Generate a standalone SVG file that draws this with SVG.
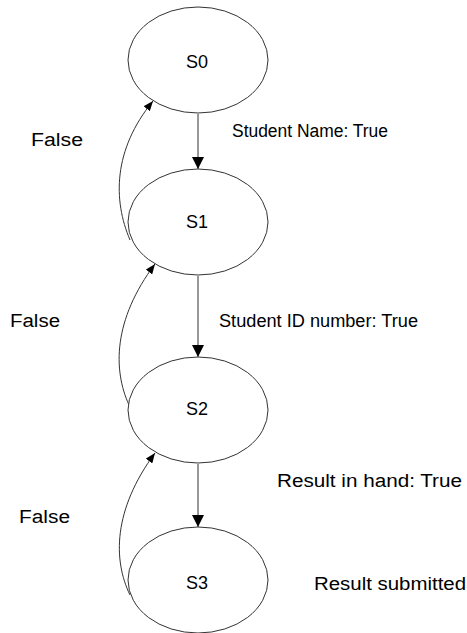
<svg xmlns="http://www.w3.org/2000/svg" width="467" height="633" viewBox="0 0 467 633">
  <style>
    .state ellipse { fill: #ffffff; stroke: #333333; stroke-width: 1; }
    .state text, .label { font-family: "Liberation Sans", Arial, sans-serif; font-size: 18px; fill: #000000; }
    .state text { text-anchor: middle; }
    .edge { fill: none; stroke: #333333; stroke-width: 1; }
  </style>
  <defs>
    <marker id="headBig" viewBox="0 0 12 12" refX="12" refY="6" markerWidth="12" markerHeight="12" markerUnits="userSpaceOnUse" orient="auto">
      <path d="M0,0 L12,6 L0,12 Z" fill="#000000"/>
    </marker>
    <marker id="headSmall" viewBox="0 0 10 8" refX="10" refY="4" markerWidth="10" markerHeight="8" markerUnits="userSpaceOnUse" orient="auto">
      <path d="M0,0 L10,4 L0,8 Z" fill="#000000"/>
    </marker>
  </defs>

  <rect width="467" height="633" fill="#ffffff"/>

  <g id="connectors">
    <!-- forward transitions -->
    <path class="edge" d="M198,114 L198,169" marker-end="url(#headBig)"/>
    <path class="edge" d="M198,276 L198,357" marker-end="url(#headBig)"/>
    <path class="edge" d="M198,464 L198,527" marker-end="url(#headBig)"/>
    <!-- return transitions (False) -->
    <path class="edge" d="M130,240 C113,200 113,150 153,101" marker-end="url(#headSmall)"/>
    <path class="edge" d="M129,405 C113,370 113,320 155,264" marker-end="url(#headSmall)"/>
    <path class="edge" d="M130,595 C113,560 113,510 155,453" marker-end="url(#headSmall)"/>
  </g>

  <g id="S0" class="state">
    <ellipse cx="198" cy="60" rx="70" ry="53"/>
    <text x="197" y="68">S0</text>
  </g>
  <g id="S1" class="state">
    <ellipse cx="198" cy="222" rx="70" ry="53"/>
    <text x="197" y="228">S1</text>
  </g>
  <g id="S2" class="state">
    <ellipse cx="198" cy="410" rx="70" ry="53"/>
    <text x="197" y="415">S2</text>
  </g>
  <g id="S3" class="state">
    <ellipse cx="198" cy="580" rx="70" ry="53"/>
    <text x="197" y="589">S3</text>
  </g>

  <g id="labels">
    <text class="label" x="31" y="146" textLength="52" lengthAdjust="spacingAndGlyphs">False</text>
    <text class="label" x="232" y="137" textLength="156" lengthAdjust="spacingAndGlyphs">Student Name: True</text>
    <text class="label" x="10" y="327" textLength="50" lengthAdjust="spacingAndGlyphs">False</text>
    <text class="label" x="219" y="327" textLength="199" lengthAdjust="spacingAndGlyphs">Student ID number: True</text>
    <text class="label" x="19" y="523" textLength="51" lengthAdjust="spacingAndGlyphs">False</text>
    <text class="label" x="277" y="487" textLength="185" lengthAdjust="spacingAndGlyphs">Result in hand: True</text>
    <text class="label" x="314" y="590" textLength="152" lengthAdjust="spacingAndGlyphs">Result submitted</text>
  </g>
</svg>
